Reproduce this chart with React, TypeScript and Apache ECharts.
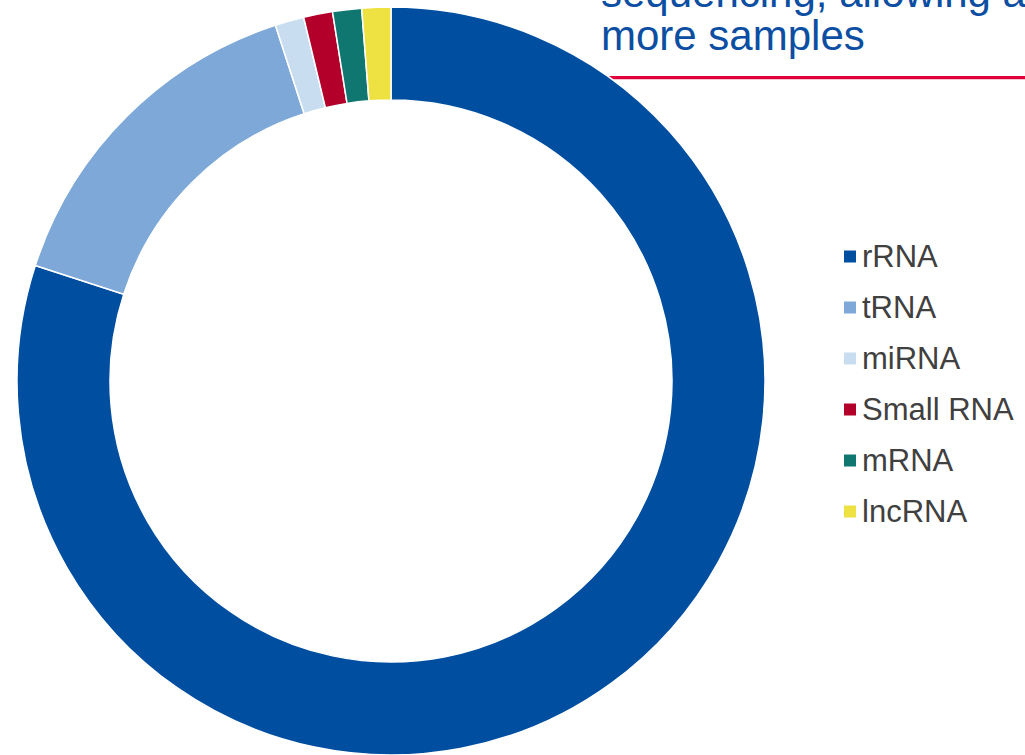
import React, { useEffect, useRef } from "react";
import * as echarts from "echarts";

// RNA classes and their share of reads (%)
const categories = ["rRNA", "tRNA", "miRNA", "Small RNA", "mRNA", "lncRNA"];
const shares = [80, 15, 1.25, 1.25, 1.25, 1.25];
const colors = ["#004EA0", "#7DA8D7", "#C9DDF1", "#B2002B", "#0F7770", "#EEE142"];
const headingLines = ["sequencing, allowing a", "more samples"];

const FONT = "Liberation Sans, Arial, sans-serif";

export default function App() {
  const ref = useRef<HTMLDivElement>(null);

  useEffect(() => {
    if (!ref.current) return;
    const chart = echarts.init(ref.current, null, { renderer: "svg" });
    chart.setOption({
      animation: false,
      backgroundColor: "#ffffff",
      legend: {
        orient: "vertical",
        left: 837,
        top: 236,
        itemWidth: 14,
        itemHeight: 14,
        itemGap: 20,
        icon: "rect",
        selectedMode: false,
        textStyle: {
          fontFamily: FONT,
          fontSize: 31,
          color: "#404040",
          lineHeight: 31,
        },
        data: categories,
      },
      graphic: [
        {
          type: "rect",
          z: 0,
          shape: { x: 600, y: 76, width: 425, height: 3 },
          style: { fill: "#E0003C" },
        },
        {
          type: "rect",
          z: 0,
          shape: { x: 600, y: 79, width: 425, height: 1 },
          style: { fill: "#F4C6D2" },
        },
        ...headingLines.map((line, i) => ({
          type: "text",
          z: 0,
          x: 601,
          y: -8 + i * 43.5,
          style: {
            text: line,
            fill: "#0B4EA2",
            fontFamily: FONT,
            fontSize: 42,
            verticalAlign: "middle",
          },
        })),
      ],
      series: [
        {
          type: "pie",
          z: 5,
          center: [391, 381],
          radius: [281, 374],
          startAngle: 90,
          clockwise: true,
          label: { show: false },
          labelLine: { show: false },
          silent: true,
          itemStyle: { borderColor: "#ffffff", borderWidth: 1.5 },
          data: categories.map((name, i) => ({
            name,
            value: shares[i],
            itemStyle: { color: colors[i] },
          })),
        },
      ],
    });
    return () => chart.dispose();
  }, []);

  return (
    <div
      ref={ref}
      style={{ position: "fixed", left: 0, top: 0, width: 1025, height: 755 }}
    />
  );
}
